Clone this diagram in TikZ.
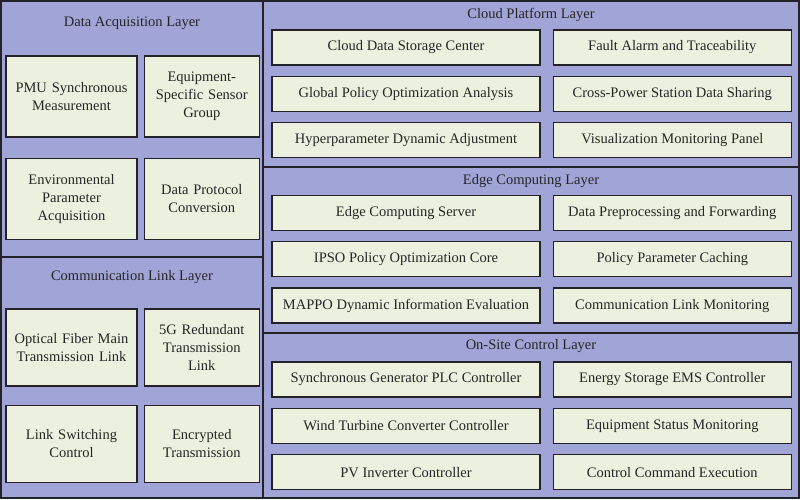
\documentclass[tikz,border=0pt]{standalone}
\usepackage{fontspec}
\setmainfont{Liberation Serif}
\usetikzlibrary{positioning}
\definecolor{layerblue}{RGB}{160,164,214}
\definecolor{itemgreen}{RGB}{235,241,222}
\definecolor{edgedark}{RGB}{34,34,40}

\begin{document}
\begin{tikzpicture}[
    x=1pt, y=-1pt,
    layer/.style={draw=edgedark, line width=1.6pt, fill=layerblue},
    item/.style={draw=edgedark, line width=1.3pt, fill=itemgreen, align=center,
      inner sep=1pt, font=\fontsize{14.5}{18}\selectfont, text=black!85},
    wide/.style={item, minimum width=268pt, minimum height=35pt},
    narrow/.style={item, minimum width=238pt, minimum height=35pt},
    tallA/.style={item, minimum width=131pt, minimum height=81pt, text width=127pt},
    tallB/.style={item, minimum width=115pt, minimum height=81pt, text width=111pt},
    title/.style={font=\fontsize{14.5}{18}\selectfont, text=black!85}
  ]
  \useasboundingbox (0,0) rectangle (800,499);

  %% Layer panels
  \draw[layer] (1,1)     rectangle (263,257);
  \draw[layer] (1,257)   rectangle (263,498);
  \draw[layer] (263,1)   rectangle (799,167);
  \draw[layer] (263,167) rectangle (799,333);
  \draw[layer] (263,333) rectangle (799,498);

  %% Layer titles
  \node[title] (acqT)   at (132,23)  {Data Acquisition Layer};
  \node[title] (commT)  at (132,277) {Communication Link Layer};
  \node[title] (cloudT) at (531,15)  {Cloud Platform Layer};
  \node[title] (edgeT)  at (531,181) {Edge Computing Layer};
  \node[title] (siteT)  at (531,346) {On-Site Control Layer};

  %% Data acquisition layer
  \node[tallA] (pmu) at (71.5,96.5) {PMU Synchronous\\Measurement};
  \node[tallB, right=6pt of pmu] (sensor) {Equipment-\\Specific Sensor\\Group};
  \node[tallA, below=20pt of pmu] (env) {Environmental\\Parameter\\Acquisition};
  \node[tallB, right=6pt of env] (proto) {Data Protocol\\Conversion};

  %% Communication link layer
  \node[tallA, minimum height=77pt] (fiber) at (71.5,347.5) {Optical Fiber Main\\Transmission Link};
  \node[tallB, minimum height=77pt, right=6pt of fiber] (fiveg) {5G Redundant\\Transmission\\Link};
  \node[tallA, minimum height=77pt, below=18pt of fiber] (switch) {Link Switching\\Control};
  \node[tallB, minimum height=77pt, right=6pt of switch] (crypt) {Encrypted\\Transmission};

  %% Cloud platform layer
  \node[wide] (storage) at (406,47.5) {Cloud Data Storage Center};
  \node[narrow, right=12pt of storage] (alarm) {Fault Alarm and Traceability};
  \node[wide, below=10pt of storage] (global) {Global Policy Optimization Analysis};
  \node[narrow, right=12pt of global] (share) {Cross-Power Station Data Sharing};
  \node[wide, below=10pt of global] (hyper) {Hyperparameter Dynamic Adjustment};
  \node[narrow, right=12pt of hyper] (visual) {Visualization Monitoring Panel};

  %% Edge computing layer
  \node[wide] (server) at (406,213) {Edge Computing Server};
  \node[narrow, right=12pt of server] (prep) {Data Preprocessing and Forwarding};
  \node[wide, below=10pt of server] (ipso) {IPSO Policy Optimization Core};
  \node[narrow, right=12pt of ipso] (cache) {Policy Parameter Caching};
  \node[wide, below=10pt of ipso] (mappo) {MAPPO Dynamic Information Evaluation};
  \node[narrow, right=12pt of mappo] (linkmon) {Communication Link Monitoring};

  %% On-site control layer
  \node[wide] (plc) at (406,379.5) {Synchronous Generator PLC Controller};
  \node[narrow, right=12pt of plc] (ems) {Energy Storage EMS Controller};
  \node[wide, below=10pt of plc] (wind) {Wind Turbine Converter Controller};
  \node[narrow, right=12pt of wind] (status) {Equipment Status Monitoring};
  \node[wide, below=10pt of wind] (pv) {PV Inverter Controller};
  \node[narrow, right=12pt of pv] (exec) {Control Command Execution};

  %% Outer frame
  \draw[edgedark, line width=2pt] (1,1) rectangle (799,498);
\end{tikzpicture}
\end{document}
